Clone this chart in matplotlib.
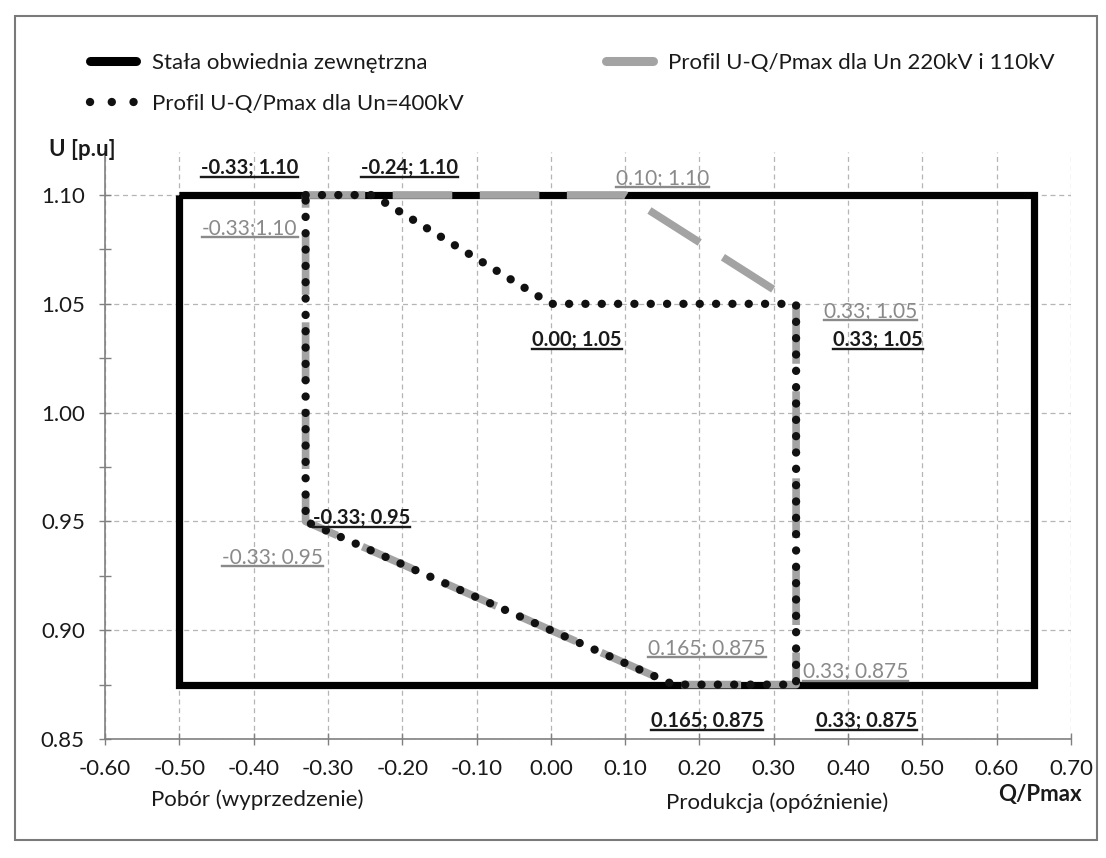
import matplotlib
matplotlib.use("Agg")
import matplotlib.pyplot as plt
from matplotlib.lines import Line2D
from matplotlib.patches import Rectangle
from matplotlib.ticker import FixedLocator

plt.rcParams['font.family'] = ['Lato', 'DejaVu Sans']

# ---- data ----
env_q = [-0.50, 0.65, 0.65, -0.50, -0.50]
env_u = [1.10, 1.10, 0.875, 0.875, 1.10]

hv_q = [-0.33, 0.10, 0.33, 0.33, 0.165, -0.33, -0.33]      # 220kV / 110kV
hv_u = [1.10, 1.10, 1.05, 0.875, 0.875, 0.95, 1.10]

ehv_q = [-0.33, -0.24, 0.00, 0.33, 0.33, 0.165, -0.33, -0.33]  # 400kV
ehv_u = [1.10, 1.10, 1.05, 1.05, 0.875, 0.875, 0.95, 1.10]

black_labels = ["-0.33; 1.10", "-0.24; 1.10", "0.00; 1.05", "0.33; 1.05",
                "-0.33; 0.95", "0.165; 0.875", "0.33; 0.875"]
black_pos = [(-0.405, 1.1125), (-0.19, 1.1125), (0.035, 1.0335), (0.44, 1.0335),
             (-0.255, 0.9515), (0.21, 0.8585), (0.425, 0.8585)]
gray_labels = ["0.10; 1.10", "-0.33;1.10", "0.33; 1.05", "-0.33; 0.95",
               "0.165; 0.875", "0.33; 0.875"]
gray_pos = [(0.15, 1.108), (-0.405, 1.085), (0.43, 1.0465), (-0.375, 0.9335),
            (0.21, 0.892), (0.41, 0.881)]

legend_names = ["Stała obwiednia zewnętrzna", "Profil U-Q/Pmax dla Un=400kV",
                "Profil U-Q/Pmax dla Un 220kV i 110kV"]

xticks = [-0.60, -0.50, -0.40, -0.30, -0.20, -0.10, 0.00, 0.10, 0.20, 0.30,
          0.40, 0.50, 0.60, 0.70]
yticks = [0.85, 0.90, 0.95, 1.00, 1.05, 1.10]

GRAY = '#a3a3a3'
GRAY_TXT = '#8a8a8a'
INK = '#1a1a1a'

fig = plt.figure(figsize=(11.06, 8.58), dpi=100)
fig.patch.set_facecolor('white')
ax = fig.add_axes([0.0949, 0.1387, 0.9684 - 0.0949, 0.8234 - 0.1387])

ax.plot(env_q, env_u, color='black', lw=5.2, solid_joinstyle='miter',
        solid_capstyle='butt', zorder=3)
ax.plot(hv_q, hv_u, color=GRAY, lw=5.5, linestyle=(0, (7.8, 3.6)),
        dash_capstyle='butt', zorder=4)
ax.plot(ehv_q, ehv_u, color='#111111', lw=6.0,
        linestyle=(0, (0.01, 1.95)), dash_capstyle='round', zorder=5)

ax.set_xlim(-0.60, 0.70)
ax.set_ylim(0.85, 1.12)
ax.xaxis.set_major_locator(FixedLocator(xticks))
ax.yaxis.set_major_locator(FixedLocator(yticks))
ax.yaxis.set_minor_locator(FixedLocator([0.875, 0.925, 0.975, 1.025, 1.075]))
ax.set_xticklabels([f"{v:.2f}" for v in xticks])
ax.set_yticklabels([f"{v:.2f}" for v in yticks])
ax.tick_params(axis='both', which='both', direction='inout', color='#808080',
               width=1.0, labelsize=16, labelcolor=INK)
ax.tick_params(axis='both', which='major', length=9)
ax.tick_params(axis='y', which='minor', length=9)
ax.tick_params(axis='x', pad=10)
ax.tick_params(axis='y', pad=10)

for s in ['top', 'right']:
    ax.spines[s].set_visible(False)
for s in ['left', 'bottom']:
    ax.spines[s].set_color('#808080')
    ax.spines[s].set_linewidth(1.2)

ax.grid(True, which='major', color='#b5b5b5', lw=0.9, linestyle=(0, (4, 3)))
ax.set_axisbelow(True)

texts = []
for s, (x, y) in zip(black_labels, black_pos):
    t = ax.text(x, y, s, color=INK, fontsize=14.5, fontweight='bold',
                ha='center', va='center', zorder=6)
    texts.append((t, INK))
for s, (x, y) in zip(gray_labels, gray_pos):
    t = ax.text(x, y, s, color=GRAY_TXT, fontsize=15, ha='center', va='center',
                zorder=6)
    texts.append((t, GRAY_TXT))

# axis titles and annotations
fig.text(0.074, 0.826, "U [p.u]", fontsize=16, fontweight='bold', ha='center',
         va='center', color=INK)
fig.text(0.940, 0.074, "Q/Pmax", fontsize=16, fontweight='bold', ha='center',
         va='center', color=INK)
fig.text(0.233, 0.068, "Pobór (wyprzedzenie)", fontsize=16, ha='center',
         va='center', color=INK)
fig.text(0.703, 0.064, "Produkcja (opóźnienie)", fontsize=16, ha='center',
         va='center', color=INK)

# legend
h_env = Line2D([], [], color='black', lw=6.5, solid_capstyle='round')
h_ehv = Line2D([], [], color='#111111', lw=6.0, linestyle=(0, (0.01, 2.6)),
               dash_capstyle='round')
h_hv = Line2D([], [], color=GRAY, lw=6.5, solid_capstyle='round')
fig.legend([h_env, h_ehv, h_hv], legend_names, ncol=2,
           loc='upper left', bbox_to_anchor=(0.063, 0.962),
           frameon=False, fontsize=16, handlelength=2.1,
           handletextpad=0.7, columnspacing=6.4, labelspacing=0.95,
           labelcolor=INK)

# outer chart border
fig.add_artist(Rectangle((0.014, 0.021), 0.978, 0.960, transform=fig.transFigure,
                         fill=False, edgecolor='#7a7a7a', lw=1.5))

# underline the data labels
fig.canvas.draw()
r = fig.canvas.get_renderer()
inv = fig.transFigure.inverted()
for t, col in texts:
    bb = t.get_window_extent(r)
    (x0, y0) = inv.transform((bb.x0, bb.y0 + 1.0))
    (x1, _) = inv.transform((bb.x1, bb.y0 + 1.0))
    fig.add_artist(Line2D([x0, x1], [y0, y0], transform=fig.transFigure,
                          color=col, lw=1.7, zorder=7))

fig.savefig("out.png", dpi=100, facecolor='white')
